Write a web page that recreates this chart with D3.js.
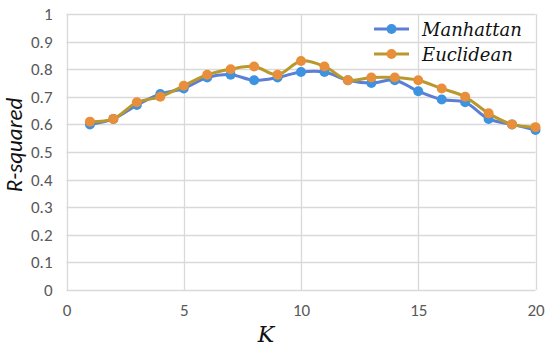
<!DOCTYPE html>
<html>
<head>
<meta charset="utf-8">
<script src="https://cdn.jsdelivr.net/npm/d3@7"></script>
<style>
  body { margin: 0; background: #fff; }
  svg { display: block; }
  .tick text { font-family: Carlito, Calibri, "Liberation Sans", sans-serif; fill: #595959; font-size: 17px; }
  .serif { font-family: "DejaVu Serif", "Liberation Serif", "Times New Roman", serif; font-style: italic; }
</style>
</head>
<body>
<svg id="chart" width="550" height="348"></svg>
<script>
// K values
const kValues = [1, 2, 3, 4, 5, 6, 7, 8, 9, 10, 11, 12, 13, 14, 15, 16, 17, 18, 19, 20];
const manhattan = [0.60, 0.62, 0.67, 0.71, 0.73, 0.77, 0.78, 0.76, 0.77, 0.79, 0.79, 0.76, 0.75, 0.76, 0.72, 0.69, 0.68, 0.62, 0.60, 0.58];
const euclidean = [0.61, 0.62, 0.68, 0.70, 0.74, 0.78, 0.80, 0.81, 0.78, 0.83, 0.81, 0.76, 0.77, 0.77, 0.76, 0.73, 0.70, 0.64, 0.60, 0.59];
const xTicks = [0, 5, 10, 15, 20];
const yTicks = [0, 0.1, 0.2, 0.3, 0.4, 0.5, 0.6, 0.7, 0.8, 0.9, 1];

const series = [
  {name: "Manhattan", values: manhattan, line: "#5b7fd6", dot: "#3d93e0"},
  {name: "Euclidean", values: euclidean, line: "#b9992c", dot: "#e98e3a"}
];

const svg = d3.select("#chart");
const plot = {left: 66.5, right: 535.5, top: 14, bottom: 290};

const x = d3.scaleLinear().domain([0, 20]).range([plot.left, plot.right]);
const y = d3.scaleLinear().domain([0, 1]).range([plot.bottom, plot.top]);

// grid
svg.append("g")
  .selectAll("line")
  .data(yTicks)
  .enter().append("line")
    .attr("x1", plot.left).attr("x2", plot.right)
    .attr("y1", d => Math.round(y(d)) + 0.5).attr("y2", d => Math.round(y(d)) + 0.5)
    .attr("stroke", "#d9d9d9").attr("stroke-width", 1.3);
svg.append("g")
  .selectAll("line")
  .data(xTicks)
  .enter().append("line")
    .attr("y1", plot.top).attr("y2", plot.bottom)
    .attr("x1", d => Math.round(x(d)) + 0.5).attr("x2", d => Math.round(x(d)) + 0.5)
    .attr("stroke", "#d9d9d9").attr("stroke-width", 1.3);

// axes (labels only)
const xAxis = svg.append("g")
  .attr("transform", "translate(0," + plot.bottom + ")")
  .call(d3.axisBottom(x).tickValues(xTicks).tickSize(0).tickPadding(14).tickFormat(d3.format("d")));
xAxis.select(".domain").remove();

const yAxis = svg.append("g")
  .attr("transform", "translate(" + plot.left + ",0)")
  .call(d3.axisLeft(y).tickValues(yTicks).tickSize(0).tickPadding(14).tickFormat(d => d === 0 || d === 1 ? d : d.toFixed(1)));
yAxis.select(".domain").remove();

// lines
const line = d3.line()
  .x((d, i) => x(kValues[i]))
  .y(d => y(d))
  .curve(d3.curveCatmullRom.alpha(0.5));

series.forEach(s => {
  svg.append("path")
    .datum(s.values)
    .attr("fill", "none")
    .attr("stroke", s.line)
    .attr("stroke-width", 3)
    .attr("d", line);
  svg.append("g")
    .selectAll("circle")
    .data(s.values)
    .enter().append("circle")
      .attr("cx", (d, i) => x(kValues[i]))
      .attr("cy", d => y(d))
      .attr("r", 5)
      .attr("fill", s.dot);
});

// legend
const legend = svg.append("g");
series.forEach((s, i) => {
  const ly = 29 + i * 25;
  legend.append("line")
    .attr("x1", 374).attr("x2", 409)
    .attr("y1", ly).attr("y2", ly)
    .attr("stroke", s.line).attr("stroke-width", 3);
  legend.append("circle")
    .attr("cx", 391.5).attr("cy", ly).attr("r", 5).attr("fill", s.dot);
  legend.append("text")
    .attr("class", "serif")
    .attr("x", 422).attr("y", ly + 7)
    .attr("font-size", 18)
    .attr("fill", "#111")
    .text(s.name);
});

// axis titles
svg.append("text")
  .attr("class", "serif")
  .attr("x", 266).attr("y", 342)
  .attr("text-anchor", "middle")
  .attr("font-size", 22)
  .attr("fill", "#111")
  .text("K");

svg.append("text")
  .attr("transform", "translate(22,145) rotate(-90)")
  .attr("text-anchor", "middle")
  .attr("font-family", "Carlito, 'Liberation Sans', sans-serif")
  .attr("font-style", "italic")
  .attr("font-size", 23)
  .attr("fill", "#111")
  .text("R-squared");
</script>
</body>
</html>
